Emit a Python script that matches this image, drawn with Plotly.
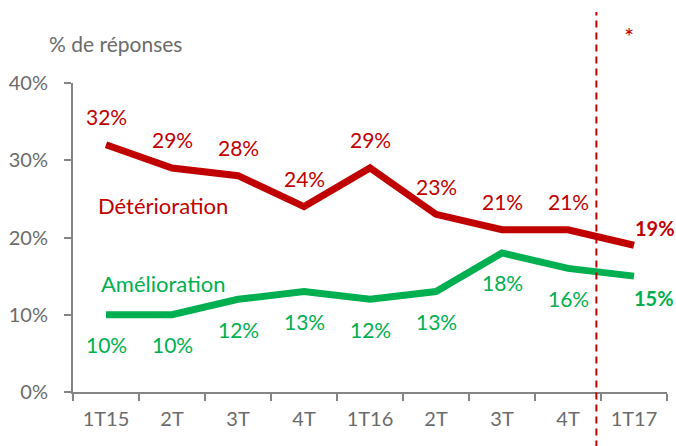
import plotly.graph_objects as go

quarters = ['1T15', '2T', '3T', '4T', '1T16', '2T', '3T', '4T', '1T17']
deterioration = [0.32, 0.29, 0.28, 0.24, 0.29, 0.23, 0.21, 0.21, 0.19]
amelioration = [0.10, 0.10, 0.12, 0.13, 0.12, 0.13, 0.18, 0.16, 0.15]

RED = '#C00000'
GREEN = '#00B050'
GREY = '#6B6B6B'
AXIS = '#858585'
FONT = 'Lato'

xs = list(range(len(quarters)))

fig = go.Figure()
fig.add_trace(go.Scatter(x=xs, y=deterioration, mode='lines',
                         line=dict(color=RED, width=7), showlegend=False))
fig.add_trace(go.Scatter(x=xs, y=amelioration, mode='lines',
                         line=dict(color=GREEN, width=7), showlegend=False))

last = len(xs) - 1
# value labels
for i, v in enumerate(deterioration):
    if i == last:
        fig.add_annotation(x=i, y=v, text='<b>%d%%</b>' % round(v * 100), showarrow=False,
                           xshift=21, yshift=17, font=dict(color=RED, size=20, family=FONT))
    else:
        fig.add_annotation(x=i, y=v, text='%d%%' % round(v * 100), showarrow=False,
                           yshift=28, font=dict(color=RED, size=21, family=FONT))
for i, v in enumerate(amelioration):
    if i == last:
        fig.add_annotation(x=i, y=v, text='<b>%d%%</b>' % round(v * 100), showarrow=False,
                           xshift=20, yshift=-22, font=dict(color=GREEN, size=20, family=FONT))
    else:
        fig.add_annotation(x=i, y=v, text='%d%%' % round(v * 100), showarrow=False,
                           yshift=-30, font=dict(color=GREEN, size=21, family=FONT))

# series names
fig.add_annotation(x=0.87, y=0.242, text='Détérioration', showarrow=False,
                   font=dict(color=RED, size=22, family=FONT))
fig.add_annotation(x=0.87, y=0.141, text='Amélioration', showarrow=False,
                   font=dict(color=GREEN, size=22, family=FONT))

# axis title and forecast marker
fig.add_annotation(xref='paper', yref='paper', x=-0.044, y=1.175, xanchor='left',
                   text='% de réponses', showarrow=False,
                   font=dict(color=GREY, size=21, family=FONT))
fig.add_annotation(x=7.93, yref='paper', y=1.207, text='*', showarrow=False,
                   font=dict(color=RED, size=24, family=FONT))
fig.add_shape(type='line', x0=7.43, x1=7.43, yref='paper', y0=-0.18, y1=1.23,
              line=dict(color=RED, width=2, dash='7px,5px'))

fig.update_layout(
    width=676, height=446,
    margin=dict(l=71, r=9, t=83, b=54),
    plot_bgcolor='white', paper_bgcolor='white',
    font=dict(family=FONT, color=GREY, size=20),
)
fig.update_xaxes(
    range=[-0.5, 8.5], tickmode='array', tickvals=xs, ticktext=quarters,
    ticks='', showgrid=False, zeroline=False,
    showline=True, linecolor=AXIS, linewidth=2,
    tickfont=dict(size=20, color=GREY), ticklabelstandoff=8,
    minor=dict(tickmode='array', tickvals=[i - 0.5 for i in range(len(xs) + 1)],
               ticks='outside', ticklen=7, tickwidth=2, tickcolor=AXIS, showgrid=False),
)
fig.update_yaxes(
    range=[0, 0.4], tickvals=[0, 0.1, 0.2, 0.3, 0.4], tickformat='.0%',
    ticks='outside', ticklen=7, tickwidth=2, tickcolor=AXIS,
    showgrid=False, zeroline=False,
    showline=True, linecolor=AXIS, linewidth=2,
    tickfont=dict(size=20, color=GREY), ticklabelstandoff=12,
)

fig.write_html('out.html', config={'displayModeBar': False},
               post_script="document.body.style.margin='0';")
